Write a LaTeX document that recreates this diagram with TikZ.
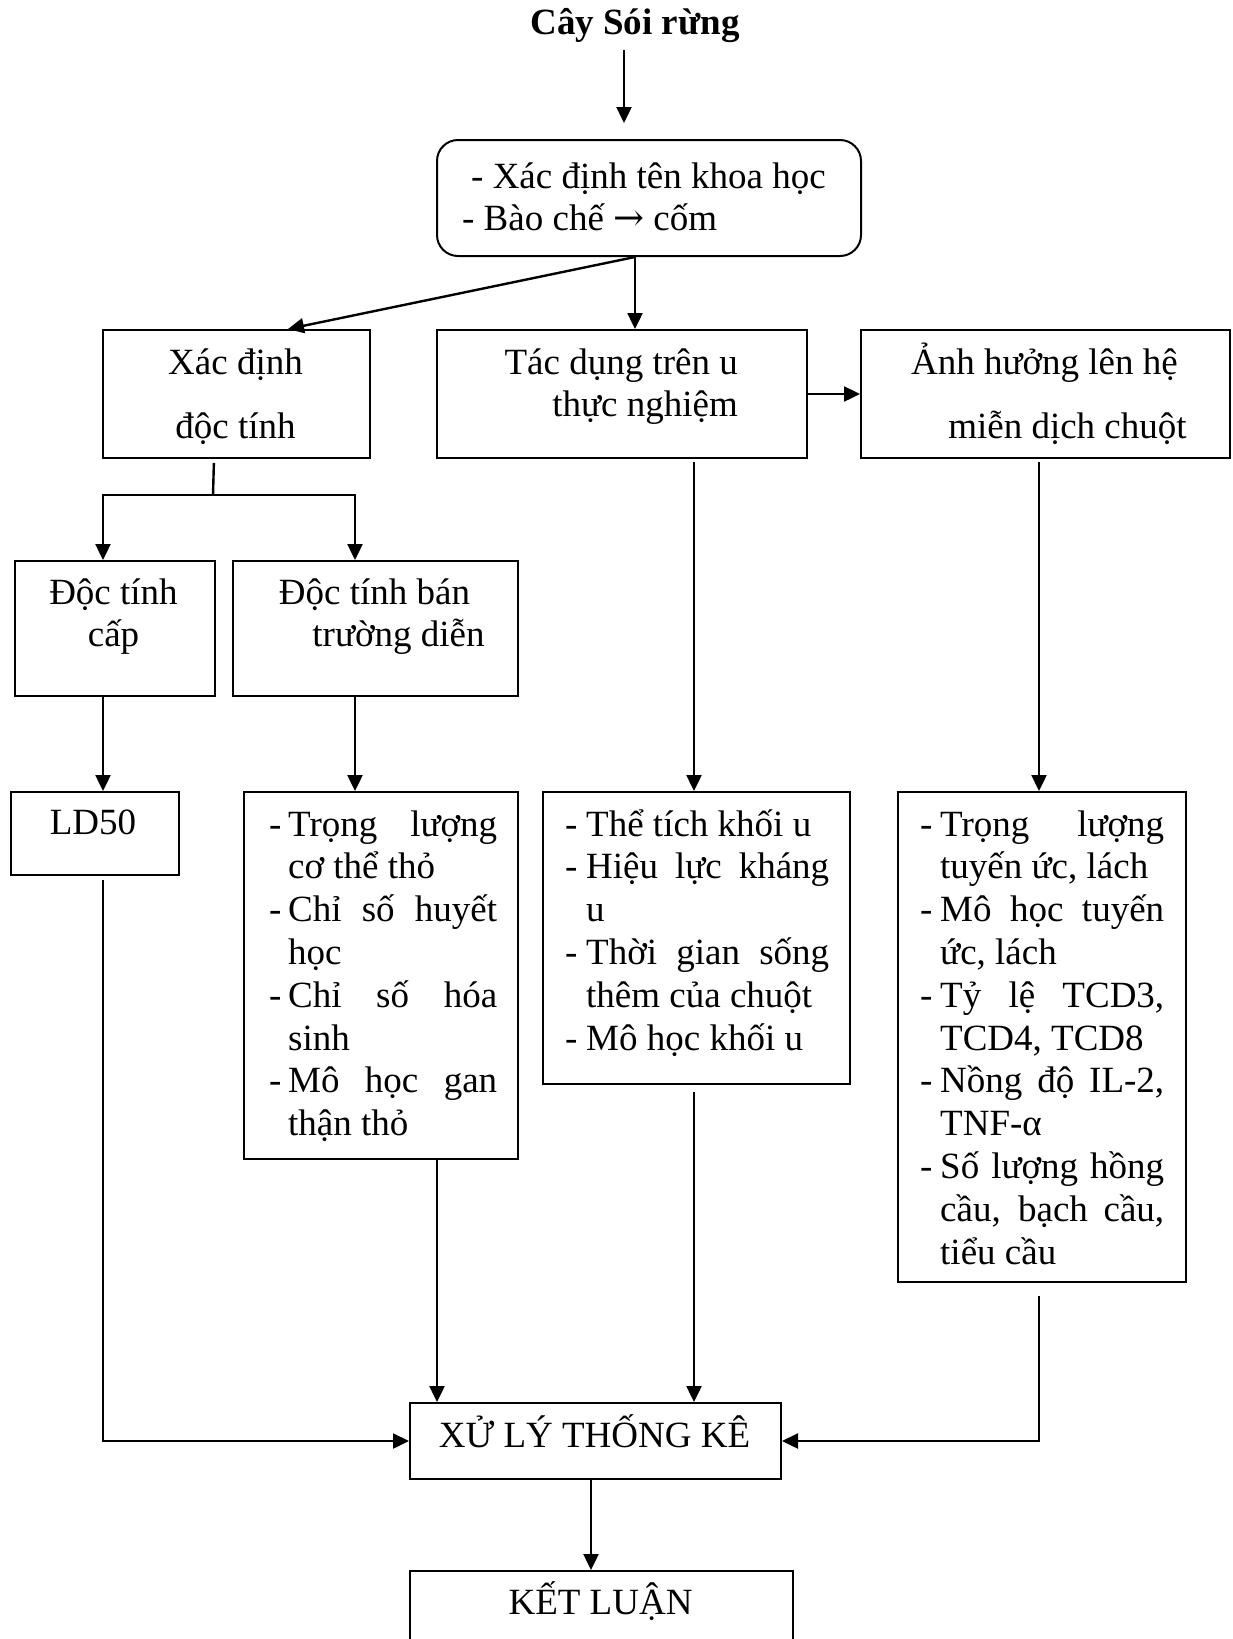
\documentclass[tikz,border=0pt]{standalone}
\usepackage{fontspec}
\setmainfont{Liberation Serif}
\newfontfamily\arrowfont{DejaVu Serif}
\usetikzlibrary{arrows.meta}
\newcommand\bodyfont{\fontsize{37}{42.8}\selectfont}
\newcommand\wideFont{\fontsize{37}{64}\selectfont}
\newlength\dw
\newlength\tw
\newcommand\dl[1]{\makebox[\dw][l]{-}#1}
\newcommand\cl[1]{\hspace*{\dw}#1}
\newcommand\jl[1]{\makebox[\tw][s]{#1}}
\begin{document}
\begin{tikzpicture}[x=1pt,y=-1pt,
  box/.style={draw, line width=2pt, inner sep=0pt, anchor=north west},
  txt/.style={inner sep=0pt},
  conn/.style={line width=2.4pt, -{Triangle[width=15pt,length=16pt]}},
  lin/.style={line width=2.4pt}]
\clip (0,0) rectangle (1232,1639);
\fill[white] (0,0) rectangle (1232,1639);
% title
\node[txt, anchor=base, font=\bodyfont\bfseries] (title) at (635,34) {Cây Sói rừng};
% boxes
\node[box, rounded corners=21pt, minimum width=424pt, minimum height=116pt] (rb) at (436,139) {};
\node[box, minimum width=267pt, minimum height=128pt] (xd) at (102,329) {};
\node[box, minimum width=370pt, minimum height=128pt] (tdu) at (436,329) {};
\node[box, minimum width=369pt, minimum height=128pt] (ahh) at (860,329) {};
\node[box, minimum width=200pt, minimum height=135pt] (dtc) at (14,560) {};
\node[box, minimum width=285pt, minimum height=135pt] (dtb) at (232,560) {};
\node[box, minimum width=168pt, minimum height=83pt] (ld) at (10,791) {};
\node[box, minimum width=274pt, minimum height=367pt] (l2) at (243,791) {};
\node[box, minimum width=307pt, minimum height=292pt] (l3) at (542,791) {};
\node[box, minimum width=288pt, minimum height=490pt] (l4) at (897,791) {};
\node[box, minimum width=371pt, minimum height=76pt] (xl) at (409,1402) {};
\node[box, minimum width=383pt, minimum height=100pt] (kl) at (409,1570) {};
% texts
\node[txt, anchor=base west] (rbt) at (462,188) {\parbox[t]{390pt}{\bodyfont\hspace*{9pt}- Xác định tên khoa học\\- Bào chế {\arrowfont →} cốm}};
\node[txt, anchor=base] (xdt) at (235.5,374) {\parbox[t]{260pt}{\centering\wideFont Xác định\\độc tính}};
\node[txt, anchor=base east] (tdut) at (738,374) {\parbox[t]{300pt}{\raggedleft\bodyfont Tác dụng trên u\\thực nghiệm}};
\node[txt, anchor=base] (ahht) at (1044.5,374) {\parbox[t]{360pt}{\centering\wideFont Ảnh hưởng lên hệ\\\hspace*{46pt}miễn dịch chuột}};
\node[txt, anchor=base] (dtct) at (113.5,604) {\parbox[t]{190pt}{\centering\bodyfont Độc tính\\cấp}};
\node[txt, anchor=base] (dtbt) at (374.5,604) {\parbox[t]{280pt}{\centering\bodyfont Độc tính bán\\\hspace*{48pt}trường diễn}};
\node[txt, anchor=base, font=\bodyfont] (ldt) at (93,834) {LD50};
\node[txt, anchor=base west] (l2t) at (269,836) {\parbox[t]{240pt}{\bodyfont\setlength\dw{19pt}\setlength\tw{209pt}%
\dl{\jl{Trọng lượng}}\\
\cl{cơ thể thỏ}\\
\dl{\jl{Chỉ số huyết}}\\
\cl{học}\\
\dl{\jl{Chỉ số hóa}}\\
\cl{sinh}\\
\dl{\jl{Mô học gan}}\\
\cl{thận thỏ}}};
\node[txt, anchor=base west] (l3t) at (565,836) {\parbox[t]{275pt}{\bodyfont\setlength\dw{21pt}\setlength\tw{243pt}%
\dl{Thể tích khối u}\\
\dl{\jl{Hiệu lực kháng}}\\
\cl{u}\\
\dl{\jl{Thời gian sống}}\\
\cl{thêm của chuột}\\
\dl{Mô học khối u}}};
\node[txt, anchor=base west] (l4t) at (920,836) {\parbox[t]{255pt}{\bodyfont\setlength\dw{20pt}\setlength\tw{224pt}%
\dl{\jl{Trọng lượng}}\\
\cl{tuyến ức, lách}\\
\dl{\jl{Mô học tuyến}}\\
\cl{ức, lách}\\
\dl{\jl{Tỷ lệ TCD3,}}\\
\cl{TCD4, TCD8}\\
\dl{\jl{Nồng độ IL-2,}}\\
\cl{TNF-α}\\
\dl{\jl{Số lượng hồng}}\\
\cl{\jl{cầu, bạch cầu,}}\\
\cl{tiểu cầu}}};
\node[txt, anchor=base, font=\bodyfont] (xlt) at (594.5,1447) {XỬ LÝ THỐNG KÊ};
\node[txt, anchor=base, font=\bodyfont] (klt) at (600.5,1614) {KẾT LUẬN};
% connectors
\coordinate (ta) at (624,0);
\draw[conn, shorten <=8pt, shorten >=16pt] (title.south -| ta) -- (ta |- rb.north);
\draw[conn] ([xshift=-14pt]rb.south) -- ([xshift=-14pt]rb.south |- tdu.north);
\draw[conn] ([xshift=-14pt]rb.south) -- ([xshift=51.5pt]xd.north);
\draw[conn] (tdu.east) -- (ahh.west);
\coordinate (br) at (213,495);
\draw[lin, shorten <=4pt] ([xshift=-22.5pt]xd.south) -- (br);
\draw[conn] (br) -| ([xshift=-12pt]dtc.north);
\draw[conn] (br) -| ([xshift=-20.5pt]dtb.north);
\draw[conn] ([xshift=-12pt]dtc.south) -- ([xshift=-12pt]dtc.south |- ld.north);
\draw[conn] ([xshift=-20.5pt]dtb.south) -- ([xshift=-20.5pt]dtb.south |- l2.north);
\draw[conn, shorten <=3pt] ([xshift=72pt]tdu.south) -- ([xshift=72pt]tdu.south |- l3.north);
\draw[conn, shorten <=3pt] ([xshift=-6.5pt]ahh.south) -- ([xshift=-6.5pt]ahh.south |- l4.north);
\draw[conn, shorten <=4pt] ([xshift=8pt]ld.south) |- (xl.west);
\draw[conn] ([xshift=56pt]l2.south) -- ([xshift=56pt]l2.south |- xl.north);
\draw[conn, shorten <=7pt] ([xshift=-2.5pt]l3.south) -- ([xshift=-2.5pt]l3.south |- xl.north);
\draw[conn, shorten <=13pt] ([xshift=-3pt]l4.south) |- (xl.east);
\draw[conn] ([xshift=-4.5pt]xl.south) -- ([xshift=-4.5pt]xl.south |- kl.north);
\end{tikzpicture}
\end{document}
